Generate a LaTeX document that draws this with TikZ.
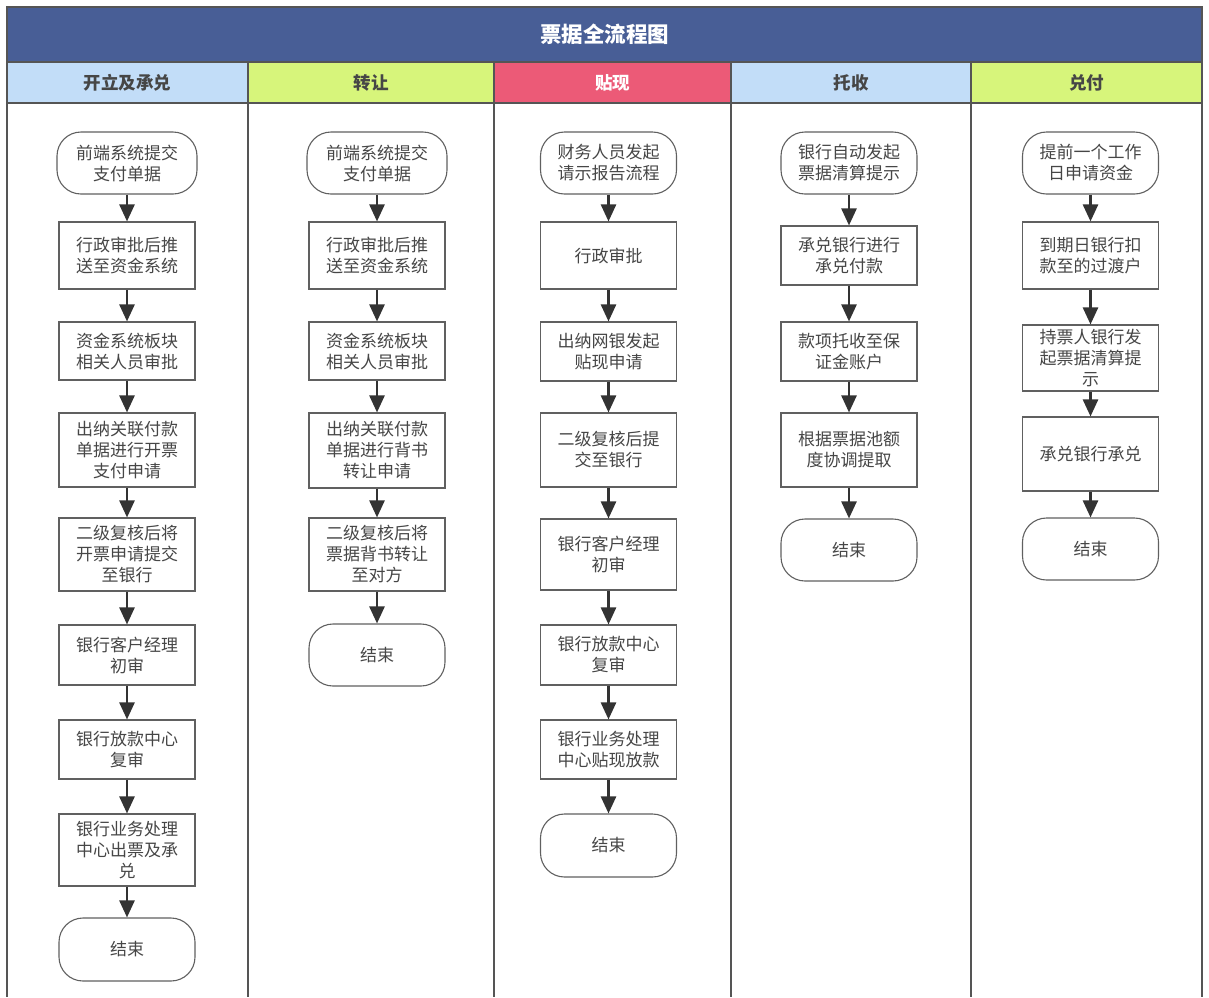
\documentclass[tikz,border=0pt]{standalone}
\usepackage{fontspec}
\setmainfont{Noto Sans CJK SC}
\usetikzlibrary{arrows.meta}
\definecolor{titleblue}{HTML}{485E96}
\definecolor{hblue}{HTML}{C2DDF8}
\definecolor{hlime}{HTML}{D7F57B}
\definecolor{hpink}{HTML}{EC5A77}
\definecolor{linegray}{HTML}{555555}
\definecolor{boxgray}{HTML}{606060}
\definecolor{textgray}{HTML}{464646}
\definecolor{arrowgray}{HTML}{333333}
\begin{document}
\begin{tikzpicture}[x=1pt,y=-1pt,
	lane/.style={draw=linegray,line width=2pt},
	head/.style={draw=linegray,line width=1.5pt,minimum height=41pt,inner sep=0pt,text=textgray,font=\fontsize{17.5}{20}\selectfont\bfseries},
	box/.style={draw=boxgray,line width=1.1pt,fill=white,minimum width=136pt,inner sep=0pt,align=center,text=textgray,font=\fontsize{17}{21}\selectfont},
	term/.style={box,rounded corners=24pt,minimum height=62pt},
	flow/.style={-{Triangle[length=17pt,width=15pt]},line width=2.5pt,draw=arrowgray}]
	\useasboundingbox (0,0) rectangle (1209,997);
	\node[draw=linegray,line width=1.5pt,fill=titleblue,minimum width=1195pt,minimum height=55pt,inner sep=0pt,text=white,font=\fontsize{21.5}{24}\selectfont\bfseries] (title) at (604.5,34.5) {\raisebox{-3pt}{票据全流程图}};
	\node[head,fill=hblue,minimum width=241pt] (h1) at (127.5,82.5) {开立及承兑};
	\node[head,fill=hlime,minimum width=246pt] (h2) at (371,82.5) {转让};
	\node[head,fill=hpink,minimum width=237pt,text=white] (h3) at (612.5,82.5) {贴现};
	\node[head,fill=hblue,minimum width=240pt] (h4) at (851,82.5) {托收};
	\node[head,fill=hlime,minimum width=231pt] (h5) at (1086.5,82.5) {兑付};
	\foreach \x in {7,248,494,731,971,1202}
		\draw[lane] (\x,103) -- (\x,997);
	% 开立及承兑
	\node[term,minimum width=140pt] (a0) at (127,163) {前端系统提交\\支付单据};
	\node[box,minimum height=67pt] (a1) at (127,255.5) {行政审批后推\\送至资金系统};
	\node[box,minimum height=58pt] (a2) at (127,351) {资金系统板块\\相关人员审批};
	\node[box,minimum height=74pt] (a3) at (127,450) {出纳关联付款\\单据进行开票\\支付申请};
	\node[box,minimum height=73pt] (a4) at (127,554.5) {二级复核后将\\开票申请提交\\至银行};
	\node[box,minimum height=60pt] (a5) at (127,655) {银行客户经理\\初审};
	\node[box,minimum height=59pt] (a6) at (127,749.5) {银行放款中心\\复审};
	\node[box,minimum height=72pt] (a7) at (127,850) {银行业务处理\\中心出票及承\\兑};
	\node[term,minimum height=63pt] (a8) at (127,949.5) {结束};
	% 转让
	\node[term,minimum width=140pt] (b0) at (377,163) {前端系统提交\\支付单据};
	\node[box,minimum height=67pt] (b1) at (377,255.5) {行政审批后推\\送至资金系统};
	\node[box,minimum height=58pt] (b2) at (377,351) {资金系统板块\\相关人员审批};
	\node[box,minimum height=75pt] (b3) at (377,450.5) {出纳关联付款\\单据进行背书\\转让申请};
	\node[box,minimum height=73pt] (b4) at (377,554.5) {二级复核后将\\票据背书转让\\至对方};
	\node[term] (b5) at (377,655) {结束};
	% 贴现
	\node[term] (c0) at (608.5,163) {财务人员发起\\请示报告流程};
	\node[box,minimum height=67pt] (c1) at (608.5,255.5) {行政审批};
	\node[box,minimum height=59pt] (c2) at (608.5,351.5) {出纳网银发起\\贴现申请};
	\node[box,minimum height=74pt] (c3) at (608.5,450) {二级复核后提\\交至银行};
	\node[box,minimum height=71pt] (c4) at (608.5,554.5) {银行客户经理\\初审};
	\node[box,minimum height=60pt] (c5) at (608.5,655) {银行放款中心\\复审};
	\node[box,minimum height=59pt] (c6) at (608.5,749.5) {银行业务处理\\中心贴现放款};
	\node[term,minimum height=63pt] (c7) at (608.5,845.5) {结束};
	% 托收
	\node[term] (d0) at (849,163) {银行自动发起\\票据清算提示};
	\node[box,minimum height=59pt] (d1) at (849,255.5) {承兑银行进行\\承兑付款};
	\node[box,minimum height=59pt] (d2) at (849,351.5) {款项托收至保\\证金账户};
	\node[box,minimum height=74pt] (d3) at (849,450) {根据票据池额\\度协调提取};
	\node[term] (d4) at (849,550) {结束};
	% 兑付
	\node[term] (e0) at (1090.5,163) {提前一个工作\\日申请资金};
	\node[box,minimum height=67pt] (e1) at (1090.5,255.5) {到期日银行扣\\款至的过渡户};
	\node[box,minimum height=66pt] (e2) at (1090.5,358) {持票人银行发\\起票据清算提\\示};
	\node[box,minimum height=74pt] (e3) at (1090.5,454) {承兑银行承兑};
	\node[term] (e4) at (1090.5,549) {结束};
	\foreach \a/\b in {a0/a1,a1/a2,a2/a3,a3/a4,a4/a5,a5/a6,a6/a7,a7/a8,
		b0/b1,b1/b2,b2/b3,b3/b4,b4/b5,
		c0/c1,c1/c2,c2/c3,c3/c4,c4/c5,c5/c6,c6/c7,
		d0/d1,d1/d2,d2/d3,d3/d4,
		e0/e1,e1/e2,e2/e3,e3/e4}
		\draw[flow] (\a.south) -- (\b.north);
\end{tikzpicture}
\end{document}
